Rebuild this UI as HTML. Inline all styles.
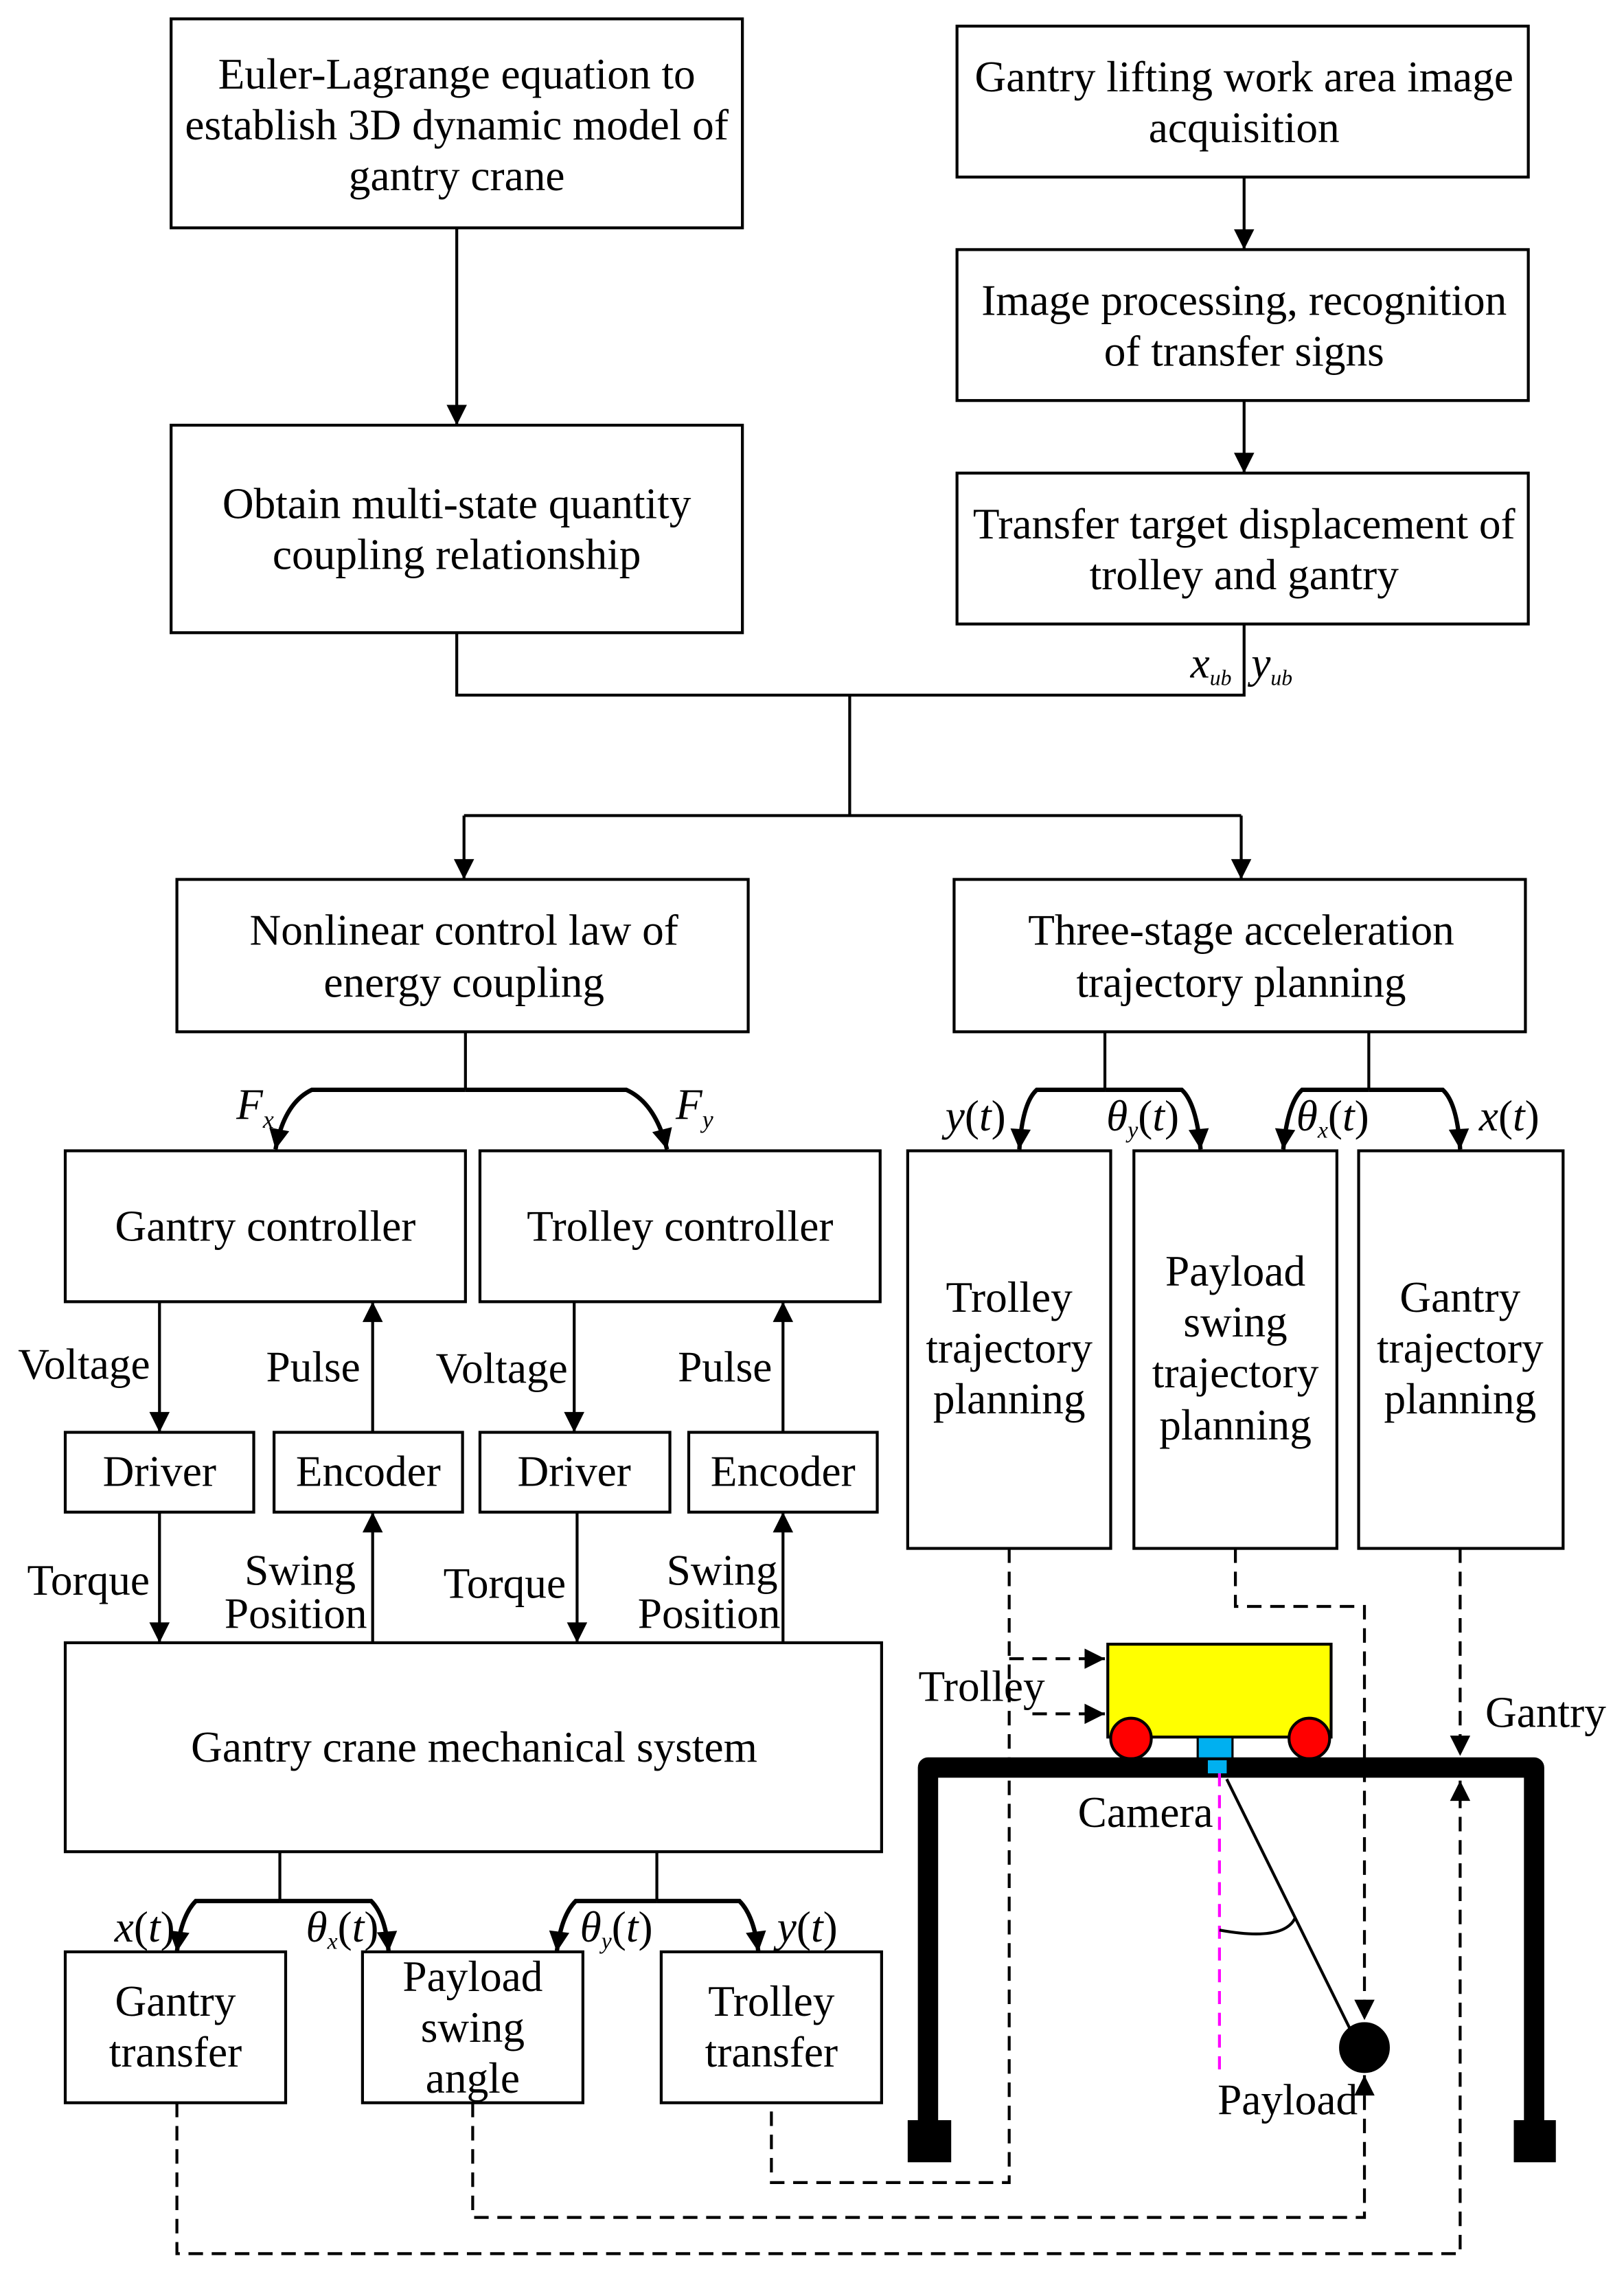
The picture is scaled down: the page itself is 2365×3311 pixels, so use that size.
<!DOCTYPE html>
<html><head><meta charset="utf-8"><style>
html,body{margin:0;padding:0;background:#fff}
svg{display:block}
text{font-family:"Liberation Serif",serif;font-size:30px;fill:#000}
.i{font-style:italic}
</style></head><body>
<svg width="2365" height="3311" viewBox="0 0 1120 1567" preserveAspectRatio="none" xmlns="http://www.w3.org/2000/svg">
<defs>
<marker id="b" viewBox="0 0 10 10" refX="10" refY="5" markerWidth="22" markerHeight="14" markerUnits="userSpaceOnUse" orient="auto"><path d="M0,0 L10,5 L0,10 z" fill="#000"/></marker>
</defs>
<g fill="none" stroke="#000" stroke-width="2">
<rect x="118" y="13" width="394" height="144"/>
<rect x="118" y="293" width="394" height="143"/>
<rect x="660" y="18" width="394" height="104"/>
<rect x="660" y="172" width="394" height="104"/>
<rect x="660" y="326" width="394" height="104"/>
<rect x="122" y="606" width="394" height="105"/>
<rect x="658" y="606" width="394" height="105"/>
<rect x="45" y="793" width="276" height="104"/>
<rect x="331" y="793" width="276" height="104"/>
<rect x="45" y="987" width="130" height="55"/>
<rect x="189" y="987" width="130" height="55"/>
<rect x="331" y="987" width="131" height="55"/>
<rect x="475" y="987" width="130" height="55"/>
<rect x="45" y="1132" width="563" height="144"/>
<rect x="45" y="1345" width="152" height="104"/>
<rect x="250" y="1345" width="152" height="104"/>
<rect x="456" y="1345" width="152" height="104"/>
<rect x="626" y="793" width="140" height="274"/>
<rect x="782" y="793" width="140" height="274"/>
<rect x="937" y="793" width="141" height="274"/>
</g>
<g fill="none" stroke="#000" stroke-width="2" marker-end="url(#b)">
<path d="M315 157V293"/><path d="M858 122V172"/><path d="M858 276V326"/>
<path d="M320 562V606"/><path d="M856 562V606"/>
<path d="M110 897V987"/><path d="M257 987V897"/><path d="M396 897V987"/><path d="M540 987V897"/>
<path d="M110 1042V1132"/><path d="M257 1132V1042"/><path d="M398 1042V1132"/><path d="M540 1132V1042"/>
</g>
<g fill="none" stroke="#000" stroke-width="2">
<path d="M315 436V479H858V430"/><path d="M586 479V562"/><path d="M320 562H856"/>
<path d="M321 711V751"/>
<path d="M193 1276V1310"/><path d="M453 1276V1310"/>
<path d="M762 711V751"/><path d="M944 711V751"/>
</g>
<g fill="none" stroke="#000" stroke-width="3" marker-end="url(#b)">
<path d="M321 751H215Q196 760 190 792"/>
<path d="M321 751H432Q452 760 460 792"/>
<path d="M193 1310H135Q125 1320 122 1345"/>
<path d="M193 1310H256Q266 1320 268 1345"/>
<path d="M453 1310H397Q387 1320 384 1345"/>
<path d="M453 1310H510Q520 1320 523 1345"/>
<path d="M762 751H715Q705 760 703 792"/>
<path d="M762 751H815Q825 760 828 792"/>
<path d="M944 751H898Q888 760 885 792"/>
<path d="M944 751H995Q1005 760 1007 792"/>
</g>
<g stroke="#000">
<rect x="764" y="1133" width="154" height="64" fill="#ff0" stroke-width="2"/>
<circle cx="780" cy="1198" r="14" fill="#f00" stroke-width="2"/>
<circle cx="903" cy="1198" r="14" fill="#f00" stroke-width="2"/>
<rect x="826" y="1197" width="24" height="16" fill="#00b0f0" stroke-width="1.5"/>
<path d="M640 1478V1218H1058V1478" fill="none" stroke-width="14" stroke-linejoin="round"/>
<rect x="626" y="1461" width="30" height="29" fill="#000" stroke="none"/>
<rect x="1044" y="1461" width="29" height="29" fill="#000" stroke="none"/>
<rect x="833" y="1213" width="13" height="9" fill="#00b0f0" stroke="none"/>
<path d="M841 1222V1430" stroke="#f0f" stroke-width="2" stroke-dasharray="9,6" fill="none"/>
<path d="M846 1226L931 1398" stroke-width="2" fill="none"/>
<path d="M841 1330Q885 1338 893 1322" stroke-width="2" fill="none"/>
<circle cx="941" cy="1411" r="17" fill="#000"/>
</g>
<g fill="none" stroke="#000" stroke-width="2" stroke-dasharray="10,6">
<path d="M696 1067V1504H532V1449"/>
<path d="M696 1143H762" marker-end="url(#b)"/>
<path d="M712 1181H762" marker-end="url(#b)"/>
<path d="M852 1067V1107H941V1392" marker-end="url(#b)"/>
<path d="M326 1449V1528H941V1430" marker-end="url(#b)"/>
<path d="M1007 1067V1210" marker-end="url(#b)"/>
<path d="M122 1449V1553H1007V1227" marker-end="url(#b)"/>
</g>
<g text-anchor="middle">
<text x="315" y="61">Euler-Lagrange equation to</text>
<text x="315" y="96">establish 3D dynamic model of</text>
<text x="315" y="131">gantry crane</text>
<text x="315" y="357">Obtain multi-state quantity</text>
<text x="315" y="392">coupling relationship</text>
<text x="858" y="63">Gantry lifting work area image</text>
<text x="858" y="98">acquisition</text>
<text x="858" y="217">Image processing, recognition</text>
<text x="858" y="252">of transfer signs</text>
<text x="858" y="371">Transfer target displacement of</text>
<text x="858" y="406">trolley and gantry</text>
<text x="320" y="651">Nonlinear control law of</text>
<text x="320" y="687">energy coupling</text>
<text x="856" y="651">Three-stage acceleration</text>
<text x="856" y="687">trajectory planning</text>
<text x="183" y="855">Gantry controller</text>
<text x="469" y="855">Trolley controller</text>
<text x="110" y="1024">Driver</text>
<text x="254" y="1024">Encoder</text>
<text x="396" y="1024">Driver</text>
<text x="540" y="1024">Encoder</text>
<text x="327" y="1214">Gantry crane mechanical system</text>
<text x="121" y="1389">Gantry</text>
<text x="121" y="1424">transfer</text>
<text x="326" y="1372">Payload</text>
<text x="326" y="1407">swing</text>
<text x="326" y="1442">angle</text>
<text x="532" y="1389">Trolley</text>
<text x="532" y="1424">transfer</text>
<text x="696" y="904">Trolley</text>
<text x="696" y="939">trajectory</text>
<text x="696" y="974">planning</text>
<text x="852" y="886">Payload</text>
<text x="852" y="921">swing</text>
<text x="852" y="956">trajectory</text>
<text x="852" y="992">planning</text>
<text x="1007" y="904">Gantry</text>
<text x="1007" y="939">trajectory</text>
<text x="1007" y="974">planning</text>
<text x="58" y="950">Voltage</text>
<text x="216" y="952">Pulse</text>
<text x="346" y="953">Voltage</text>
<text x="500" y="952">Pulse</text>
<text x="61" y="1099">Torque</text>
<text x="207" y="1092">Swing</text>
<text x="204" y="1122">Position</text>
<text x="348" y="1101">Torque</text>
<text x="498" y="1092">Swing</text>
<text x="489" y="1122">Position</text>
<text x="677" y="1172">Trolley</text>
<text x="1066" y="1190">Gantry</text>
<text x="790" y="1259">Camera</text>
<text x="888" y="1457">Payload</text>
</g>
<text class="i" x="821" y="467">x<tspan font-size="15" dy="5">ub</tspan></text>
<text class="i" x="863" y="467">y<tspan font-size="15" dy="5">ub</tspan></text>
<text class="i" x="163" y="771">F<tspan font-size="17" dy="6">x</tspan></text>
<text class="i" x="466" y="771">F<tspan font-size="17" dy="6">y</tspan></text>
<text x="652" y="779"><tspan class="i">y</tspan>(<tspan class="i">t</tspan>)</text>
<text x="763" y="779"><tspan class="i">θ</tspan><tspan class="i" font-size="16" dy="5">y</tspan><tspan dy="-5">(</tspan><tspan class="i">t</tspan>)</text>
<text x="894" y="779"><tspan class="i">θ</tspan><tspan class="i" font-size="16" dy="5">x</tspan><tspan dy="-5">(</tspan><tspan class="i">t</tspan>)</text>
<text x="1020" y="779"><tspan class="i">x</tspan>(<tspan class="i">t</tspan>)</text>
<text x="79" y="1338"><tspan class="i">x</tspan>(<tspan class="i">t</tspan>)</text>
<text x="211" y="1338"><tspan class="i">θ</tspan><tspan class="i" font-size="16" dy="5">x</tspan><tspan dy="-5">(</tspan><tspan class="i">t</tspan>)</text>
<text x="400" y="1338"><tspan class="i">θ</tspan><tspan class="i" font-size="16" dy="5">y</tspan><tspan dy="-5">(</tspan><tspan class="i">t</tspan>)</text>
<text x="536" y="1338"><tspan class="i">y</tspan>(<tspan class="i">t</tspan>)</text>
</svg>
</body></html>
